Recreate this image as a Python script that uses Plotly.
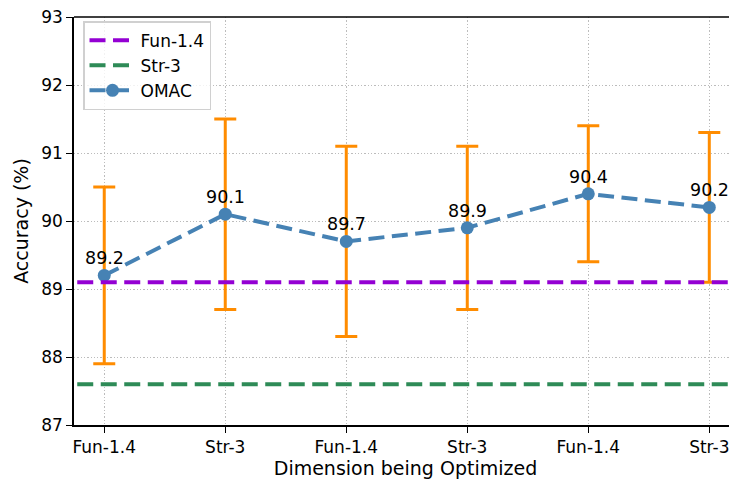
import plotly.graph_objects as go

categories = ["Fun-1.4", "Str-3", "Fun-1.4", "Str-3", "Fun-1.4", "Str-3"]
omac_values = [89.2, 90.1, 89.7, 89.9, 90.4, 90.2]
omac_errors = [1.3, 1.4, 1.4, 1.2, 1.0, 1.1]
fun_baseline = 89.1
str_baseline = 87.6
y_ticks = [87, 88, 89, 90, 91, 92, 93]

x_idx = list(range(len(categories)))
FONT = "DejaVu Sans"
DASH = "16px,7.5px"
GRID_DASH = "1.3px,2px"

fig = go.Figure()
fig.add_trace(go.Scatter(
    x=x_idx, y=omac_values, mode="lines+markers", name="OMAC", legendrank=3,
    line=dict(color="#4682B4", width=4, dash=DASH),
    marker=dict(color="#4682B4", size=13),
    error_y=dict(type="data", array=omac_errors, visible=True,
                 color="#FF8C00", thickness=3, width=11)))
fig.add_trace(go.Scatter(
    x=[-1, len(categories)], y=[fun_baseline, fun_baseline], mode="lines",
    legendrank=1,
    line=dict(color="#9400D3", width=4, dash=DASH), name="Fun-1.4"))
fig.add_trace(go.Scatter(
    x=[-1, len(categories)], y=[str_baseline, str_baseline], mode="lines",
    legendrank=2,
    line=dict(color="#2E8B57", width=4, dash=DASH), name="Str-3"))

for xi, v in zip(x_idx, omac_values):
    fig.add_annotation(x=xi, y=v, text=f"{v:.1f}", showarrow=False,
                       yshift=17, font=dict(family=FONT, size=17.5, color="black"))

# top spine
fig.add_shape(type="line", xref="paper", yref="paper", x0=0, x1=1, y0=1, y1=1,
              line=dict(color="black", width=1.5), layer="above")

fig.update_layout(
    width=729, height=473,
    margin=dict(l=66, r=0, t=9, b=56),
    paper_bgcolor="white", plot_bgcolor="white",
    font=dict(family=FONT, size=17, color="black"),
    showlegend=True,
    legend=dict(x=0.0136, y=0.99, xanchor="left", yanchor="top",
                bordercolor="#d0d0d0", borderwidth=1.5, bgcolor="rgba(255,255,255,0.8)",
                font=dict(family=FONT, size=17), itemwidth=46),
)
fig.update_xaxes(
    range=[-0.25, 5.229], tickmode="array", tickvals=x_idx, ticktext=categories,
    showline=True, linecolor="black", linewidth=1.5,
    ticks="outside", ticklen=6, tickcolor="black", automargin=False,
    ticklabeloverflow="allow",
    showgrid=True, gridcolor="#bcbcbc", griddash=GRID_DASH, gridwidth=1, zeroline=False,
    title=dict(text="Dimension being Optimized", font=dict(family=FONT, size=19), standoff=4),
    tickfont=dict(family=FONT, size=17))
fig.update_yaxes(
    range=[87, 93], tickmode="array", tickvals=y_ticks,
    showline=True, linecolor="black", linewidth=1.5,
    ticks="outside", ticklen=6, tickcolor="black", automargin=False,
    ticklabeloverflow="allow",
    showgrid=True, gridcolor="#bcbcbc", griddash=GRID_DASH, gridwidth=1, zeroline=False,
    title=dict(text="Accuracy (%)", font=dict(family=FONT, size=19), standoff=8),
    tickfont=dict(family=FONT, size=17))

fig.write_html("out.html")
